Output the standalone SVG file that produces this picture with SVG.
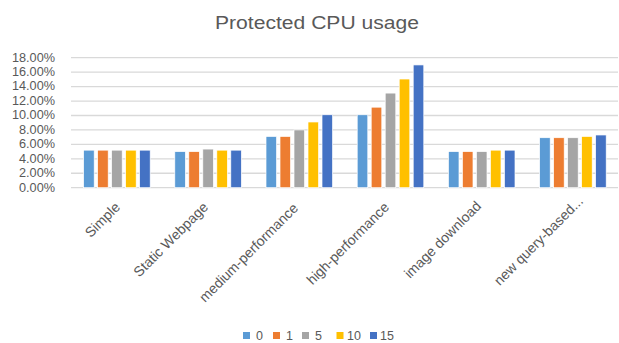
<svg xmlns="http://www.w3.org/2000/svg" width="619" height="343" viewBox="0 0 619 343">
<style>
text{font-family:"Liberation Sans",Arial,sans-serif;fill:#595959}
.grid{stroke:#D9D9D9;stroke-width:1.3}
.tick{font-size:12px;text-anchor:end}
.cat{font-size:14px;text-anchor:end}
.leg{font-size:12.5px}
rect.b{stroke:#fff;stroke-width:0.7}
.s0{fill:#5B9BD5}.s1{fill:#ED7D31}.s2{fill:#A5A5A5}.s3{fill:#FFC000}.s4{fill:#4472C4}
</style>
<rect width="619" height="343" fill="#fff"/>
<text id="title" x="215" y="28.5" font-size="17.5" textLength="204" lengthAdjust="spacingAndGlyphs">Protected CPU usage</text>
<g id="grid">
<line class="grid" x1="71" y1="57.7" x2="618" y2="57.7"/>
<line class="grid" x1="71" y1="72.14" x2="618" y2="72.14"/>
<line class="grid" x1="71" y1="86.59" x2="618" y2="86.59"/>
<line class="grid" x1="71" y1="101.03" x2="618" y2="101.03"/>
<line class="grid" x1="71" y1="115.48" x2="618" y2="115.48"/>
<line class="grid" x1="71" y1="129.92" x2="618" y2="129.92"/>
<line class="grid" x1="71" y1="144.37" x2="618" y2="144.37"/>
<line class="grid" x1="71" y1="158.81" x2="618" y2="158.81"/>
<line class="grid" x1="71" y1="173.26" x2="618" y2="173.26"/>
<line class="grid" x1="71" y1="187.7" x2="618" y2="187.7"/>
</g>
<g id="yaxis">
<text class="tick" x="55" y="61.5" textLength="43" lengthAdjust="spacingAndGlyphs">18.00%</text>
<text class="tick" x="55" y="75.9" textLength="43" lengthAdjust="spacingAndGlyphs">16.00%</text>
<text class="tick" x="55" y="90.4" textLength="43" lengthAdjust="spacingAndGlyphs">14.00%</text>
<text class="tick" x="55" y="104.8" textLength="43" lengthAdjust="spacingAndGlyphs">12.00%</text>
<text class="tick" x="55" y="119.3" textLength="43" lengthAdjust="spacingAndGlyphs">10.00%</text>
<text class="tick" x="55" y="133.7" textLength="36" lengthAdjust="spacingAndGlyphs">8.00%</text>
<text class="tick" x="55" y="148.2" textLength="36" lengthAdjust="spacingAndGlyphs">6.00%</text>
<text class="tick" x="55" y="162.6" textLength="36" lengthAdjust="spacingAndGlyphs">4.00%</text>
<text class="tick" x="55" y="177.1" textLength="36" lengthAdjust="spacingAndGlyphs">2.00%</text>
<text class="tick" x="55" y="191.5" textLength="36" lengthAdjust="spacingAndGlyphs">0.00%</text>
</g>
<g id="simple">
<rect class="b s0" x="83.6" y="150.15" width="10.6" height="37.55"/>
<rect class="b s1" x="97.6" y="150.15" width="10.6" height="37.55"/>
<rect class="b s2" x="111.6" y="150.15" width="10.6" height="37.55"/>
<rect class="b s3" x="125.6" y="150.15" width="10.6" height="37.55"/>
<rect class="b s4" x="139.6" y="150.15" width="10.6" height="37.55"/>
<text class="cat" transform="translate(121,208) rotate(-45)">Simple</text>
</g>
<g id="static">
<rect class="b s0" x="174.8" y="151.59" width="10.6" height="36.11"/>
<rect class="b s1" x="188.8" y="151.59" width="10.6" height="36.11"/>
<rect class="b s2" x="202.8" y="149.06" width="10.6" height="38.64"/>
<rect class="b s3" x="216.8" y="150.15" width="10.6" height="37.55"/>
<rect class="b s4" x="230.8" y="150.15" width="10.6" height="37.55"/>
<text class="cat" transform="translate(209,208) rotate(-45)">Static Webpage</text>
</g>
<g id="medium">
<rect class="b s0" x="266" y="136.42" width="10.6" height="51.28"/>
<rect class="b s1" x="280" y="136.42" width="10.6" height="51.28"/>
<rect class="b s2" x="294" y="129.92" width="10.6" height="57.78"/>
<rect class="b s3" x="308" y="121.98" width="10.6" height="65.72"/>
<rect class="b s4" x="322" y="114.76" width="10.6" height="72.94"/>
<text class="cat" transform="translate(299,209) rotate(-45)">medium-performance</text>
</g>
<g id="high">
<rect class="b s0" x="357.2" y="114.76" width="10.6" height="72.94"/>
<rect class="b s1" x="371.2" y="107.17" width="10.6" height="80.53"/>
<rect class="b s2" x="385.2" y="93.09" width="10.6" height="94.61"/>
<rect class="b s3" x="399.2" y="79.01" width="10.6" height="108.69"/>
<rect class="b s4" x="413.2" y="64.93" width="10.6" height="122.77"/>
<text class="cat" transform="translate(390,208) rotate(-45)">high-performance</text>
</g>
<g id="image">
<rect class="b s0" x="448.4" y="151.59" width="10.6" height="36.11"/>
<rect class="b s1" x="462.4" y="151.59" width="10.6" height="36.11"/>
<rect class="b s2" x="476.4" y="151.59" width="10.6" height="36.11"/>
<rect class="b s3" x="490.4" y="150.15" width="10.6" height="37.55"/>
<rect class="b s4" x="504.4" y="150.15" width="10.6" height="37.55"/>
<text class="cat" transform="translate(482,207) rotate(-45)">image download</text>
</g>
<g id="newquery">
<rect class="b s0" x="539.6" y="137.72" width="10.6" height="49.98"/>
<rect class="b s1" x="553.6" y="137.72" width="10.6" height="49.98"/>
<rect class="b s2" x="567.6" y="137.72" width="10.6" height="49.98"/>
<rect class="b s3" x="581.6" y="136.42" width="10.6" height="51.28"/>
<rect class="b s4" x="595.6" y="134.98" width="10.6" height="52.72"/>
<text class="cat" transform="translate(584,202) rotate(-45)">new query-based...</text>
</g>
<g id="legend">
<rect class="s0" x="243" y="332" width="7" height="7"/><text class="leg" x="256" y="339.5">0</text>
<rect class="s1" x="273" y="332" width="7" height="7"/><text class="leg" x="286" y="339.5">1</text>
<rect class="s2" x="302" y="332" width="7" height="7"/><text class="leg" x="315" y="339.5">5</text>
<rect class="s3" x="336.5" y="332" width="7" height="7"/><text class="leg" x="347" y="339.5">10</text>
<rect class="s4" x="370" y="332" width="7" height="7"/><text class="leg" x="380" y="339.5">15</text>
</g>
</svg>
